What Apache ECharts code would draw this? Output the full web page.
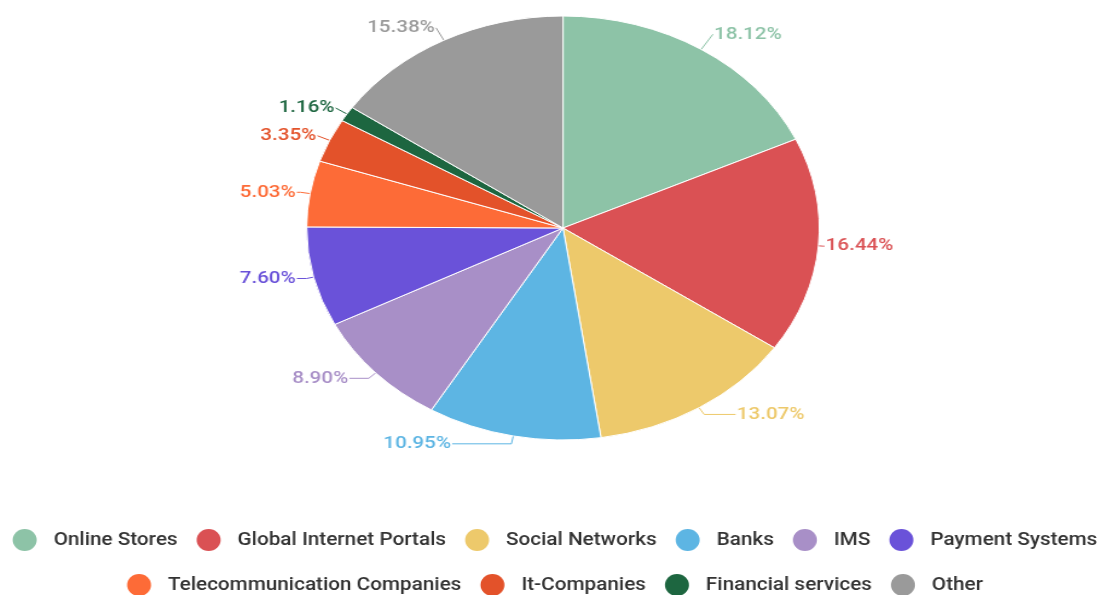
<!DOCTYPE html>
<html>
<head>
<meta charset="utf-8">
<script src="https://cdn.jsdelivr.net/npm/echarts@6/dist/echarts.min.js"></script>
<style>
  html, body { margin: 0; padding: 0; background: #fff; overflow: hidden; }
  #wrap { position: relative; width: 1110px; height: 595px; }
  #pie { position: absolute; left: 0; top: 0; width: 918px; height: 595px;
         transform: scaleX(1.2092); transform-origin: 0 0; }
  #legend { position: absolute; left: 0; top: 0; width: 1018px; height: 595px;
         transform: scaleX(1.0904); transform-origin: 0 0; }
</style>
</head>
<body>
<div id="wrap">
  <div id="pie"></div>
  <div id="legend"></div>
</div>
<script>
const categories = ['Online Stores', 'Global Internet Portals', 'Social Networks', 'Banks', 'IMS',
  'Payment Systems', 'Telecommunication Companies', 'It-Companies', 'Financial services', 'Other'];
const values = [18.12, 16.44, 13.07, 10.95, 8.90, 7.60, 5.03, 3.35, 1.16, 15.38];
const colors = ['#8dc3a7', '#da5154', '#edc96b', '#5db5e3', '#a88fc7', '#6a52d9',
  '#fd6b37', '#e3522a', '#1d6640', '#9a9a9a'];
const legendRow1 = categories.slice(0, 6);
const legendRow2 = categories.slice(6);
// label-line styling per slice: [radial length, horizontal length]
const labelLineLens = [[18, 0], [4, 1], [8, 26], [8, 49], [8, 16], [6, 8], [8, 3], [11, 0], [11, 0], [14, 0]];

const pieData = categories.map((name, i) => ({
  name: name,
  value: values[i],
  itemStyle: { color: colors[i] },
  label: { color: colors[i] },
  labelLine: { length: labelLineLens[i][0], length2: labelLineLens[i][1], lineStyle: { color: colors[i] } }
}));

const pieChart = echarts.init(document.getElementById('pie'), null, { renderer: 'canvas' });
pieChart.setOption({
  animation: false,
  series: [{
    type: 'pie',
    center: [465.6, 228],
    radius: 212,
    startAngle: 90,
    clockwise: true,
    avoidLabelOverlap: false,
    itemStyle: { borderColor: '#ffffff', borderWidth: 1 },
    label: {
      show: true,
      position: 'outside',
      distanceToLabelLine: 1,
      fontFamily: 'Roboto',
      fontWeight: 500,
      fontSize: 17,
      formatter: p => p.value.toFixed(2) + '%'
    },
    labelLine: { show: true, length: 8, length2: 6, lineStyle: { width: 1 } },
    emphasis: { disabled: true },
    data: pieData
  }]
});

const legendChart = echarts.init(document.getElementById('legend'), null, { renderer: 'canvas' });
const legendCommon = {
  orient: 'horizontal',
  left: 'center',
  icon: 'circle',
  itemWidth: 23,
  itemHeight: 22,
  itemGap: 17.5,
  selectedMode: false,
  textStyle: {
    fontFamily: 'Roboto',
    fontWeight: 500,
    fontSize: 19,
    lineHeight: 22,
    color: '#333',
    padding: [0, 0, 0, 10]
  }
};
legendChart.setOption({
  animation: false,
  legend: [
    Object.assign({}, legendCommon, { top: 524, data: legendRow1 }),
    Object.assign({}, legendCommon, { top: 569, data: legendRow2 })
  ],
  series: [{
    type: 'pie',
    radius: [0, 0],
    silent: true,
    label: { show: false },
    labelLine: { show: false },
    data: categories.map((name, i) => ({ name: name, value: values[i], itemStyle: { color: colors[i] } }))
  }]
});
</script>
</body>
</html>
